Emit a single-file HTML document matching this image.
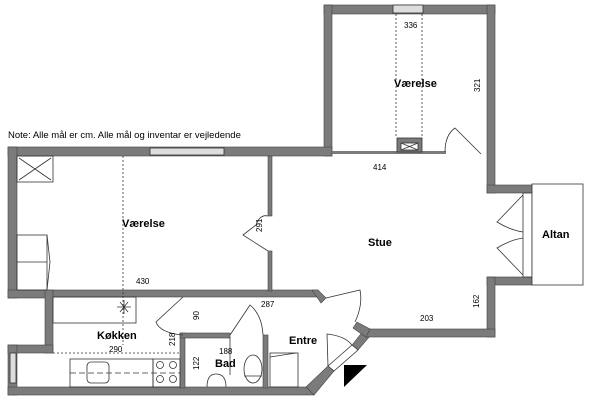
<!DOCTYPE html>
<html><head><meta charset="utf-8"><style>
html,body{margin:0;padding:0;background:#fff;width:600px;height:404px;overflow:hidden}
svg{display:block}
text{font-family:"Liberation Sans",sans-serif;fill:#000}
.l{font-weight:bold;font-size:11px}
.d{font-size:8px}
</style></head><body>
<svg width="600" height="404" viewBox="0 0 600 404">
<g fill="#7b7b7b" stroke="#444" stroke-width="0.6">
<rect x="324" y="5" width="171" height="9"/>
<rect x="324" y="5" width="8" height="151"/>
<rect x="487" y="5" width="8" height="188"/>
<rect x="487" y="185" width="45" height="8"/>
<rect x="487" y="277" width="45" height="8"/>
<rect x="487" y="277" width="8" height="60"/>
<rect x="8" y="147" width="324" height="9"/>
<rect x="8" y="147" width="9" height="151"/>
<rect x="8" y="290" width="45" height="8"/>
<rect x="45" y="290" width="8" height="63"/>
<rect x="8" y="345" width="45" height="8"/>
<rect x="8" y="345" width="9" height="50"/>
<rect x="8" y="387" width="306" height="8"/>
<polygon points="306,387 328,366 334,371 314,395"/>
<polygon points="352,345 364,330 370,336 358,350"/>
<rect x="366" y="329" width="129" height="8"/>
<polygon points="357,322 370,329 366,337 353,328"/>
<rect x="53" y="290" width="265" height="7"/>
<polygon points="312,290 318,290 326,298 321,303"/>
<rect x="268" y="156" width="4" height="60"/>
<rect x="268" y="251" width="4" height="40"/>
<rect x="180" y="333" width="5" height="55"/>
<rect x="180" y="333" width="50" height="5"/>
<rect x="263" y="335" width="5" height="53"/>
</g>
<polygon points="328,366 352,345 358,350 334,371" fill="#fff" stroke="#333" stroke-width="0.8"/>
<rect x="332" y="151" width="114" height="3" fill="#7b7b7b"/>
<rect x="393" y="5" width="30" height="8" fill="#ddd" stroke="#333" stroke-width="0.8"/>
<rect x="150" y="148" width="74" height="7" fill="#ddd" stroke="#333" stroke-width="0.8"/>
<rect x="10" y="353" width="6" height="30" fill="#ddd" stroke="#333" stroke-width="0.8"/>
<rect x="523" y="193" width="9" height="84" fill="#fff" stroke="#333" stroke-width="0.8"/>
<rect x="532" y="184" width="51" height="101" fill="#fff" stroke="#333" stroke-width="0.8"/>
<g fill="none" stroke="#333" stroke-width="0.8">
<line x1="396" y1="14" x2="396" y2="138" stroke-dasharray="2,2"/>
<line x1="422" y1="14" x2="422" y2="138" stroke-dasharray="2,2"/>
<line x1="123" y1="156" x2="123" y2="345" stroke-dasharray="2,2"/>
<line x1="53" y1="353" x2="180" y2="353" stroke-dasharray="2,2"/>
<rect x="397" y="138" width="25" height="14" fill="#7b7b7b"/>
<rect x="401" y="143" width="17" height="7" fill="#fff"/>
<path d="M401,143 L418,150 M418,143 L401,150"/>
<rect x="17" y="156" width="36" height="26"/>
<path d="M19,158 L51,180 M51,158 L19,180"/>
<rect x="17" y="235" width="30" height="55"/>
<line x1="17" y1="262" x2="47" y2="262"/>
<path d="M47,235 L50,262 L47,290"/>
<path d="M445,152 Q445,135 455,128 L481,154"/>
<path d="M268,216 Q260,214 256,225 L243,235 L268,251"/>
<path d="M523,195 L497,222 Q510,230 523,232 M523,275 L497,248 Q510,240 523,238"/>
<path d="M183,297 L156,322 Q160,333 183,335"/>
<path d="M263,335 Q262,315 250,305 L230,335"/>
<path d="M326,298 L360,290 Q363,305 355,322"/>
<path d="M328,366 L327,334 Q345,336 352,345"/>
<rect x="53" y="297" width="83" height="26"/>
<path d="M120,302 L128,312 M128,302 L120,312 M117,307 L131,307 M124,300 L124,314"/>
<rect x="70" y="359" width="83" height="28"/>
<rect x="153" y="359" width="27" height="28"/>
<line x1="70" y1="373" x2="180" y2="373" stroke-dasharray="6,3"/>
<rect x="87" y="362" width="22" height="21" rx="4"/>
<circle cx="160" cy="365" r="3.5"/><circle cx="173" cy="365" r="3.5"/>
<circle cx="160" cy="379" r="3.5"/><circle cx="173" cy="379" r="3.5"/>
<ellipse cx="253" cy="369" rx="9" ry="14"/>
<line x1="244" y1="376" x2="262" y2="376"/>
<path d="M207,387 Q207,374 216,374 Q226,374 226,387"/>
<path d="M230,337 L230,375"/>
<rect x="270" y="353" width="28" height="34"/>
<line x1="270" y1="357" x2="296" y2="353"/>
</g>
<polygon points="344,365 367,365 344,387" fill="#000"/>
<text x="8" y="138" font-size="9.5">Note: Alle mål er cm. Alle mål og inventar er vejledende</text>
<text x="394" y="87" class="l">Værelse</text>
<text x="122" y="227" class="l">Værelse</text>
<text x="368" y="246" class="l">Stue</text>
<text x="542" y="238" class="l">Altan</text>
<text x="97" y="339" class="l">Køkken</text>
<text x="215" y="367" class="l">Bad</text>
<text x="289" y="344" class="l">Entre</text>
<text x="404" y="28" class="d">336</text>
<text x="373" y="170" class="d">414</text>
<text x="136" y="284" class="d">430</text>
<text x="261" y="307" class="d">287</text>
<text x="109" y="352" class="d">290</text>
<text x="219" y="354" class="d">188</text>
<text x="420" y="321" class="d">203</text>
<text class="d" transform="translate(480,92) rotate(-90)">321</text>
<text class="d" transform="translate(262,232) rotate(-90)">291</text>
<text class="d" transform="translate(479,308) rotate(-90)">162</text>
<text class="d" transform="translate(199,320) rotate(-90)">90</text>
<text class="d" transform="translate(175,346) rotate(-90)">218</text>
<text class="d" transform="translate(199,370) rotate(-90)">122</text>
</svg>
</body></html>
